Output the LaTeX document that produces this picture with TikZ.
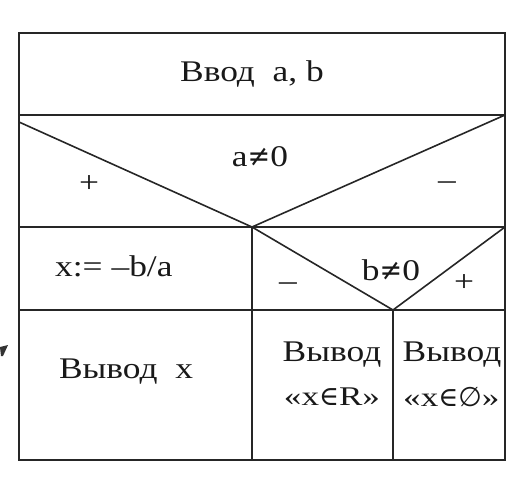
\documentclass[tikz,border=0pt]{standalone}
\usepackage{fontspec}
\setmainfont[FakeStretch=1.18]{Liberation Serif}
\newfontfamily\symf[FakeStretch=0.9]{DejaVu Serif}
\newfontfamily\smf[FakeStretch=1.3]{Liberation Serif}
\newfontfamily\smsym[FakeStretch=1.0]{DejaVu Serif}
\newfontfamily\emptyf{DejaVu Sans}
\tikzset{
  ln/.style={line width=1.6pt, color=black!85},
  txt/.style={inner sep=0pt, font=\fontsize{30}{34}\selectfont, text=black!90},
  sm/.style={inner sep=0pt, font=\smf\fontsize{27}{30}\selectfont, text=black!90}
}
\begin{document}
\begin{tikzpicture}[x=1pt,y=-1pt]
\useasboundingbox (0,0) rectangle (516,480);
% grid
\coordinate (TL) at (19,33);
\coordinate (BR) at (505,460);
\coordinate (L1) at (19,115);
\coordinate (R1) at (505,115);
\coordinate (L2) at (19,227);
\coordinate (A1) at (252,227);
\coordinate (R2) at (505,227);
\coordinate (L3) at (19,310);
\coordinate (A2) at (393,310);
\coordinate (R3) at (505,310);
\coordinate (B1) at (252,460);
\coordinate (B2) at (393,460);
\coordinate (DL) at (19,122);
% texts
\node[txt] (input) at (252,74) {Ввод\ \ a, b};
\node[txt] (c1) at (260,157) {a{\symf ≠}0};
\node[txt] (p1) at (89,184) {+};
\node[txt] (m1) at (447,186) {–};
\node[txt, anchor=west] (assign) at (55,266) {x:=\ –b/a};
\node[txt] (c2) at (391,270) {b{\symf ≠}0};
\node[txt] (m2) at (288,287) {–};
\node[txt] (p2) at (464,283) {+};
\node[txt] (outx) at (126,372) {Вывод\ \ x};
\node[txt] (outR) at (332,355) {Вывод};
\node[sm] (setR) at (332,397) {«x{\smsym ∈}R»};
\node[txt] (outE) at (452,355) {Вывод};
\node[sm, anchor=west] (setE) at (403,397) {«x{\smsym ∈}{\emptyf ∅}»};
% lines
\draw[ln] (TL) rectangle (BR);
\draw[ln] (L1) -- (R1);
\draw[ln] (L2) -- (R2);
\draw[ln] (L3) -- (R3);
\draw[ln] (A1) -- (B1);
\draw[ln] (A2) -- (B2);
\draw[ln] (DL) -- (A1) -- (R1);
\draw[ln] (A1) -- (A2) -- (R2);
% stray mark at left
\fill[black!80] (0,347) -- (8,345) -- (3,356) -- (1,356) -- cycle;
\end{tikzpicture}
\end{document}
